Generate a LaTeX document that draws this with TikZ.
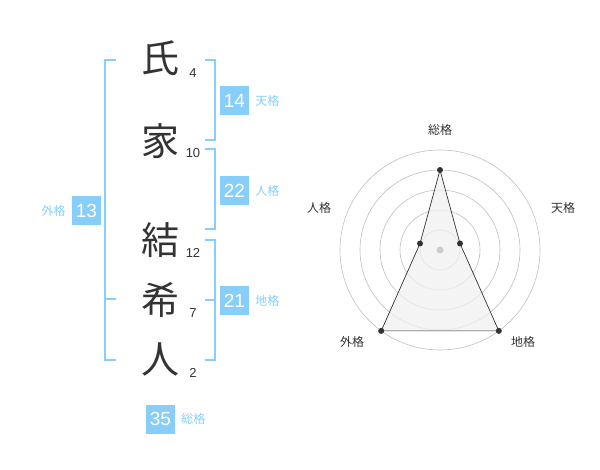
\documentclass[tikz,border=0pt]{standalone}
\usepackage{fontspec}
\setmainfont{Liberation Sans}
\newfontfamily\jp{Noto Sans CJK JP}
\usetikzlibrary{positioning}
\definecolor{sky}{RGB}{135,206,250}
\definecolor{ink}{RGB}{51,51,51}

\begin{document}
\begin{tikzpicture}
    [x=1pt,y=-1pt,
     kanji/.style={text=ink,font=\jp\fontsize{38}{38}\selectfont,inner sep=0pt},
     strokes/.style={text=ink,font=\fontsize{13}{13}\selectfont,inner sep=0pt},
     score/.style={rectangle,fill=sky,text=white,minimum size=29pt,inner sep=0pt,font=\fontsize{19}{19}\selectfont},
     kaku/.style={text=sky,font=\jp\fontsize{12}{12}\selectfont,inner sep=0pt, node distance=6pt},
     brace/.style={draw=sky,line width=1.8pt},
     ring/.style={draw=gray!50,line width=0.6pt},
     dot/.style={circle,fill=ink,inner sep=0pt,minimum size=6pt},
     axis/.style={text=ink,font=\jp\fontsize{12}{12}\selectfont}]
    \useasboundingbox (0,0) rectangle (600,470);

    % name and stroke counts
    \node[kanji] (ch1) at (160,58) {氏};
    \node[kanji] (ch2) at (160,141) {家};
    \node[kanji] (ch3) at (160,240) {結};
    \node[kanji] (ch4) at (160,300) {希};
    \node[kanji] (ch5) at (160,359) {人};
    \node[strokes] (st1) at (193,73) {4};
    \node[strokes] (st2) at (193,153) {10};
    \node[strokes] (st3) at (193,253) {12};
    \node[strokes] (st4) at (193,313) {7};
    \node[strokes] (st5) at (193,373) {2};

    % brackets
    \draw[brace] (116,60) -- (105,60) -- (105,360) -- (116,360);
    \draw[brace] (105,299) -- (116,299);
    \draw[brace] (205,60) -- (215,60) -- (215,140) -- (205,140);
    \draw[brace] (205,149) -- (215,149) -- (215,229) -- (205,229);
    \draw[brace] (205,240) -- (215,240) -- (215,360) -- (205,360);
    \draw[brace] (205,300) -- (215,300);

    % scores
    \node[score] (ten) at (234.5,100.5) {14};
    \node[kaku] (tenlbl) [right=of ten] {天格};
    \node[score] (jin) at (234.5,190.5) {22};
    \node[kaku] (jinlbl) [right=of jin] {人格};
    \node[score] (chi) at (234.5,301) {21};
    \node[kaku] (chilbl) [right=of chi] {地格};
    \node[score] (gai) at (86.5,210.5) {13};
    \node[kaku] (gailbl) [left=of gai] {外格};
    \node[score] (sou) at (160.5,419) {35};
    \node[kaku] (soulbl) [right=of sou] {総格};

    % radar chart
    \coordinate (ctr) at (440,250);
    \foreach \r in {20,40,60,80,100}
      \draw[ring] (ctr) circle (\r);
    \coordinate (psou) at (440,170);
    \coordinate (pten) at (460,243.5);
    \coordinate (pchi) at (498.8,330.9);
    \coordinate (pgai) at (381.2,330.9);
    \coordinate (pjin) at (420,243.5);
    \draw[fill=gray!12,fill opacity=0.75,draw=ink,line width=0.7pt]
      (psou) -- (pten) -- (pchi) -- (pgai) -- (pjin) -- cycle;
    \fill[gray!40] (ctr) circle (3.5);
    \foreach \p in {psou,pten,pchi,pgai,pjin}
      \node[dot] at (\p) {};
    \node[axis] (asou) at (440,130) {総格};
    \node[axis] (aten) at (563,208) {天格};
    \node[axis] (ajin) at (319,208) {人格};
    \node[axis] (agai) at (352,342) {外格};
    \node[axis] (achi) at (523,342) {地格};
\end{tikzpicture}
\end{document}
